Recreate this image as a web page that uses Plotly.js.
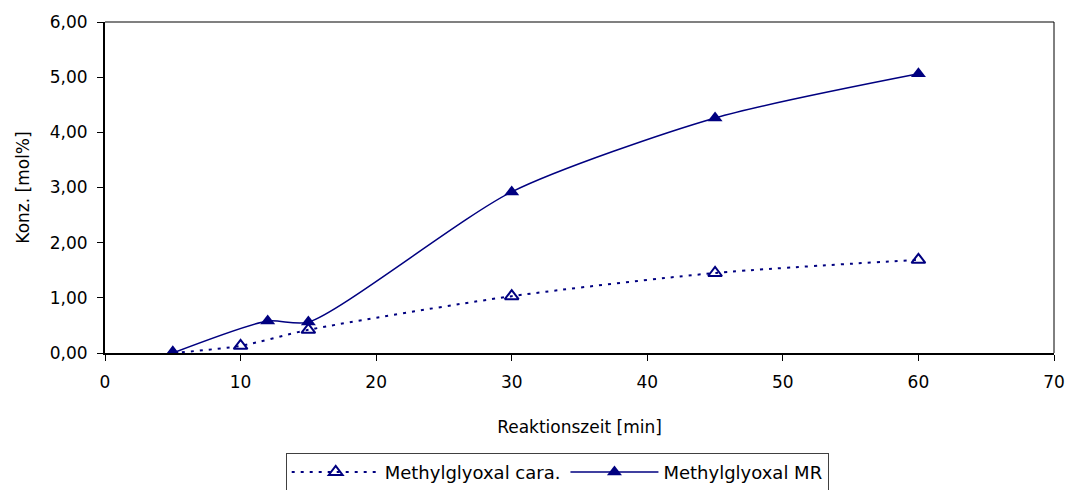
<!DOCTYPE html>
<html><head><meta charset="utf-8">
<script src="https://cdn.plot.ly/plotly-3.0.1.min.js"></script>
<style>body{margin:0;background:#fff}#chart{width:1067px;height:490px}</style>
</head><body><div id="chart"></div>
<script>
var caraX = [5, 10, 15, 30, 45, 60];
var caraY = [0.00, 0.13, 0.42, 1.03, 1.45, 1.69];
var mrX = [5, 12, 15, 30, 45, 60];
var mrY = [0.00, 0.58, 0.56, 2.92, 4.26, 5.06];
var xTicks = [0, 10, 20, 30, 40, 50, 60, 70];
var yTicks = [0, 1, 2, 3, 4, 5, 6];
var navy = '#000080';
var traces = [
  {x: caraX, y: caraY, name: 'Methylglyoxal cara.', mode: 'lines+markers',
   line: {color: navy, width: 2, dash: '3px,6px', shape: 'spline', smoothing: 0.7},
   marker: {symbol: 'triangle-up-open', size: 12, color: navy, line: {width: 2, color: navy}}},
  {x: mrX, y: mrY, name: 'Methylglyoxal MR', mode: 'lines+markers',
   line: {color: navy, width: 1.5, shape: 'spline', smoothing: 0.7},
   marker: {symbol: 'triangle-up', size: 13, color: navy}}
];
var font = {family: 'DejaVu Sans, sans-serif', size: 17, color: '#000'};
var legendFont = {family: 'DejaVu Sans, sans-serif', size: 18, color: '#000'};
var layout = {
  width: 1067, height: 490,
  margin: {l: 105, r: 13, t: 22, b: 137, autoexpand: false},
  paper_bgcolor: '#fff', plot_bgcolor: '#fff',
  font: font,
  separators: ',.',
  showlegend: true,
  xaxis: {range: [0, 70], tickvals: xTicks, ticks: 'outside', ticklen: 6, tickcolor: '#000',
    showline: true, linecolor: '#000', linewidth: 2, showgrid: false, zeroline: false,
    automargin: false, ticklabelstandoff: 7,
    title: {text: 'Reaktionszeit [min]', font: font, standoff: 30}},
  yaxis: {range: [0, 6], tickvals: yTicks, tickformat: '.2f', ticks: 'outside', ticklen: 6, tickcolor: '#000',
    showline: true, linecolor: '#000', linewidth: 2, showgrid: false, zeroline: false,
    automargin: false, ticklabelstandoff: 6,
    title: {text: 'Konz. [mol%]', font: font, standoff: 16}},
  legend: {orientation: 'h', x: 0.4765, xanchor: 'center', yref: 'container', y: 0.076, yanchor: 'top',
    bordercolor: '#404040', borderwidth: 1, font: legendFont, itemwidth: 88},
  shapes: [
    {type: 'line', xref: 'paper', yref: 'paper', x0: 0, x1: 1, y0: 1, y1: 1, line: {color: '#808080', width: 2}},
    {type: 'line', xref: 'paper', yref: 'paper', x0: 1, x1: 1, y0: 0, y1: 1, line: {color: '#000', width: 1}}
  ]
};
Plotly.newPlot('chart', traces, layout, {displayModeBar: false});
</script></body></html>
